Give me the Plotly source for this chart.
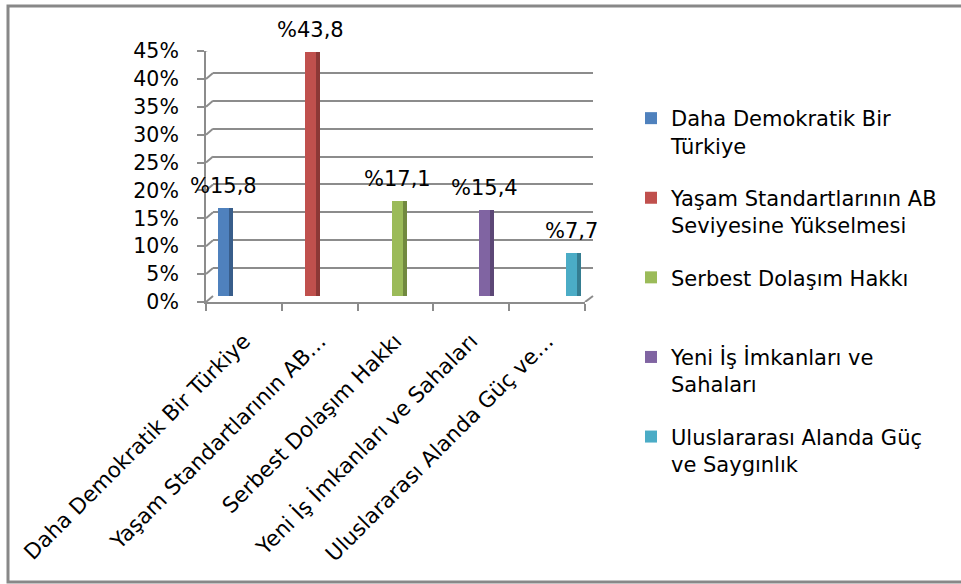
import plotly.graph_objects as go

# ---------------- data ----------------
categories = ["Daha Demokratik Bir Türkiye",
              "Yaşam Standartlarının AB Seviyesine Yükselmesi",
              "Serbest Dolaşım Hakkı",
              "Yeni İş İmkanları ve Sahaları",
              "Uluslararası Alanda Güç ve Saygınlık"]
axis_labels = ["Daha Demokratik Bir Türkiye",
               "Yaşam Standartlarının AB…",
               "Serbest Dolaşım Hakkı",
               "Yeni İş İmkanları ve Sahaları",
               "Uluslararası Alanda Güç ve…"]
legend_labels = ["Daha Demokratik Bir<br>Türkiye",
                 "Yaşam Standartlarının AB<br>Seviyesine Yükselmesi",
                 "Serbest Dolaşım Hakkı<br> ",
                 "Yeni İş İmkanları ve<br>Sahaları",
                 "Uluslararası Alanda Güç<br>ve Saygınlık"]
values = [15.8, 43.8, 17.1, 15.4, 7.7]
value_labels = ["%15,8", "%43,8", "%17,1", "%15,4", "%7,7"]
y_ticks = [0, 5, 10, 15, 20, 25, 30, 35, 40, 45]
y_tick_labels = ["0%", "5%", "10%", "15%", "20%", "25%", "30%", "35%", "40%", "45%"]

# ---------------- style ----------------
colors = ["#4F81BD", "#C0504D", "#9BBB59", "#8064A2", "#4BACC6"]
side_colors = ["#385D8A", "#8C3836", "#71893F", "#5C4776", "#357D91"]
FONT = "DejaVu Sans"
GRID = "#8C8C8C"

W, H = 961, 584
BACK_L, BACK_R, BACK_TOP, BACK_BOT = 213, 593, 45, 296
FRONT_L, FRONT_R, FRONT_TOP, FRONT_BOT = 206, 585, 51, 302
BAR0, BAR_STEP = 225.5, 87.1
FACE_W, SIDE_W = 11.0, 4.0

x_left = -(BAR0 - BACK_L) / BAR_STEP
x_right = (BACK_R - BAR0) / BAR_STEP
face_off = -(FACE_W + SIDE_W) / 2 / BAR_STEP
face_w = FACE_W / BAR_STEP
side_off = face_off + face_w
side_w = SIDE_W / BAR_STEP

fig = go.Figure()
idx = list(range(len(categories)))
for i in idx:
    fig.add_trace(go.Bar(
        x=[i], y=[values[i]], name=legend_labels[i], legendgroup=str(i),
        marker=dict(color=colors[i], line=dict(width=0)),
        width=face_w, offset=face_off, xaxis="x", yaxis="y",
        hoverinfo="skip"))
    fig.add_trace(go.Bar(
        x=[i], y=[values[i]], showlegend=False, legendgroup=str(i),
        marker=dict(color=side_colors[i], line=dict(width=0)),
        width=side_w, offset=side_off, xaxis="x", yaxis="y",
        hoverinfo="skip"))

# front category axis carrier
fig.add_trace(go.Scatter(x=axis_labels, y=values, xaxis="x2", yaxis="y2",
                         mode="markers", marker=dict(opacity=0),
                         showlegend=False, hoverinfo="skip"))

for i in idx:
    fig.add_annotation(x=i, y=values[i], xref="x", yref="y", text=value_labels[i],
                       showarrow=False, yanchor="bottom", yshift=8, xshift=-2,
                       font=dict(family=FONT, size=21, color="#000000"))

# 3D side-wall connectors
px_per_unit = (FRONT_BOT - FRONT_TOP) / (y_ticks[-1] - y_ticks[0])
shift = (FRONT_BOT - BACK_BOT) / px_per_unit
for v in y_ticks:
    fig.add_shape(type="line", xref="paper", yref="y2",
                  x0=FRONT_L / W, x1=BACK_L / W, y0=v, y1=v + shift,
                  line=dict(color=GRID, width=2))
fig.add_shape(type="line", xref="paper", yref="y2",
              x0=FRONT_R / W, x1=BACK_R / W, y0=0, y1=shift,
              line=dict(color=GRID, width=2))
# outer chart border
fig.add_shape(type="rect", xref="paper", yref="paper",
              x0=8 / W, x1=1.01, y0=1 - 582 / H, y1=1 - 6 / H,
              line=dict(color="#888888", width=3))

fig.update_layout(
    width=W, height=H, template="none",
    margin=dict(l=0, r=0, t=0, b=0),
    paper_bgcolor="white", plot_bgcolor="rgba(0,0,0,0)",
    barmode="overlay", bargap=0,
    font=dict(family=FONT, color="#000000"),
    showlegend=True,
    legend=dict(x=631 / W, y=1 - 98 / H, xanchor="left", yanchor="top",
                font=dict(family=FONT, size=21, color="#000000"),
                valign="top", tracegroupgap=22, bgcolor="rgba(0,0,0,0)"),
    xaxis=dict(domain=[BACK_L / W, BACK_R / W], range=[x_left, x_right],
               showgrid=False, zeroline=False, showline=False,
               showticklabels=False, ticks="", anchor="y"),
    yaxis=dict(domain=[1 - BACK_BOT / H, 1 - BACK_TOP / H],
               range=[y_ticks[0], y_ticks[-1]],
               tickvals=y_ticks, showticklabels=False, ticks="",
               showgrid=True, gridcolor=GRID, gridwidth=2,
               zeroline=False, showline=False, anchor="x"),
    xaxis2=dict(domain=[FRONT_L / W, FRONT_R / W], anchor="y2",
                type="category", categoryorder="array", categoryarray=axis_labels,
                range=[-0.5, len(axis_labels) - 0.5],
                tickson="boundaries", ticks="outside", ticklen=7,
                tickwidth=2, tickcolor=GRID,
                showline=True, linecolor=GRID, linewidth=2,
                showgrid=False, zeroline=False,
                tickangle=-45, tickfont=dict(family=FONT, size=21.5, color="#000000"),
                ticklabelstandoff=16),
    yaxis2=dict(domain=[1 - FRONT_BOT / H, 1 - FRONT_TOP / H], anchor="x2",
                range=[y_ticks[0], y_ticks[-1]],
                tickvals=y_ticks, ticktext=y_tick_labels,
                ticks="outside", ticklen=7, tickwidth=2, tickcolor=GRID,
                showline=True, linecolor=GRID, linewidth=2,
                showgrid=False, zeroline=False,
                tickfont=dict(family=FONT, size=20.5, color="#000000"),
                ticklabelstandoff=14),
)

fig.write_html("out.html", config={"displayModeBar": False},
               post_script="document.body.style.margin='0';")
